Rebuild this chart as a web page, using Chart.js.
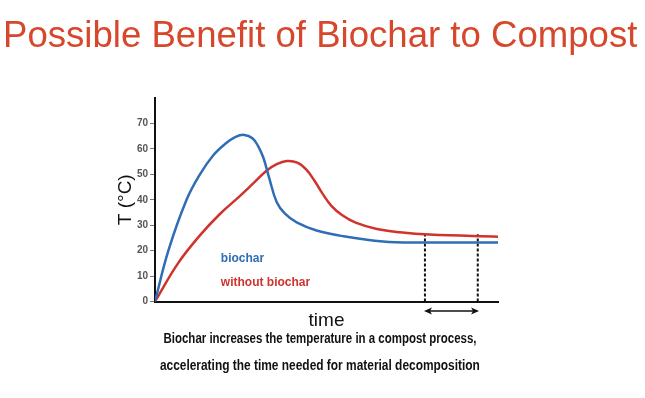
<!DOCTYPE html>
<html>
<head>
<meta charset="utf-8">
<script src="https://cdn.jsdelivr.net/npm/chart.js@4.4.1/dist/chart.umd.min.js"></script>
<style>
  body { margin: 0; background: #fff; }
  #page {
    position: relative;
    width: 645px;
    height: 398px;
    overflow: hidden;
    font-family: 'Liberation Sans', Arial, sans-serif;
  }
  #chartBox { position: absolute; left: 0; top: 0; }
  #title {
    position: absolute;
    left: 3px;
    top: 14px;
    font-size: 36.6px;
    color: #D6472C;
    white-space: nowrap;
  }
  .cap {
    position: absolute;
    left: 0;
    width: 640px;
    text-align: center;
    line-height: 16px;
  }
  .cap span {
    display: inline-block;
    font-weight: bold;
    font-size: 14px;
    color: #111;
    white-space: nowrap;
    transform-origin: center;
  }
</style>
</head>
<body>
<div id="page">
  <div id="chartBox"><canvas id="compostChart" width="645" height="398"></canvas></div>
  <div id="title">Possible Benefit of Biochar to Compost</div>
  <div class="cap" style="top:330px"><span data-w="313">Biochar increases the temperature in a compost process,</span></div>
  <div class="cap" style="top:357px"><span data-w="320">accelerating the time needed for material decomposition</span></div>
</div>
<script>
// valeurs (temps en unités arbitraires 0-100)
const timeBiochar = [0, 3.9, 9.2, 13.1, 17, 20.5, 23.5, 26, 28.4, 30.1, 31.6, 33.2, 35.5, 37.9, 41.3, 47.1, 53.9, 66.5, 77.3, 100];
const tempBiochar = [0, 20, 40, 50, 57.5, 62, 64.7, 65.5, 64.2, 61, 56.5, 49, 39, 34.5, 31.1, 27.9, 25.9, 23.6, 23.2, 23.2];

const timeWithout = [0, 6.7, 13.1, 19, 24.8, 28.7, 32.6, 35.5, 38.4, 41.5, 44, 46.5, 48.8, 51.5, 54.5, 58.5, 64.7, 71.4, 80, 100];
const tempWithout = [0, 15, 26, 34.5, 41.5, 46.5, 51.5, 54, 55.2, 54.6, 52, 47.5, 42.5, 37.5, 34, 31, 28.5, 27.2, 26.3, 25.5];

const yTicks = [0, 10, 20, 30, 40, 50, 60, 70];
const seriesNames = ['biochar', 'without biochar'];
const seriesColors = ['#2F6DB5', '#D0332E'];

// fenêtre de gain de temps (lignes pointillées + flèche)
const windowTimes = [78.7, 94.1];
const windowTemp = 26.4;
const arrowTimes = [79.3, 93.6];
const arrowLevel = -3.7;

function toPoints(xs, ys) {
  return xs.map((x, i) => ({ x: x, y: ys[i] }));
}

// étiquettes des séries + pointes de la flèche
const annotations = {
  id: 'annotations',
  afterDatasetsDraw(chart) {
    const { ctx, scales } = chart;
    const spots = [[19.2, 16.8], [19.2, 7.4]];
    ctx.save();
    ctx.font = 'bold 12px "Liberation Sans", Arial, sans-serif';
    ctx.textBaseline = 'middle';
    seriesNames.forEach((name, i) => {
      ctx.fillStyle = seriesColors[i];
      ctx.fillText(name, scales.x.getPixelForValue(spots[i][0]), scales.y.getPixelForValue(spots[i][1]));
    });

    const y = scales.y.getPixelForValue(arrowLevel);
    const x0 = scales.x.getPixelForValue(arrowTimes[0]);
    const x1 = scales.x.getPixelForValue(arrowTimes[1]);
    ctx.fillStyle = '#111';
    [[x0, -1], [x1, 1]].forEach(([x, dir]) => {
      ctx.beginPath();
      ctx.moveTo(x + dir * 3, y);
      ctx.lineTo(x - dir * 5, y - 3.5);
      ctx.lineTo(x - dir * 3, y);
      ctx.lineTo(x - dir * 5, y + 3.5);
      ctx.closePath();
      ctx.fill();
    });
    ctx.restore();
  }
};

const dashed = (t) => ({
  data: [{ x: t, y: 0 }, { x: t, y: windowTemp }],
  borderColor: '#111',
  borderWidth: 2,
  borderDash: [3, 2],
  pointRadius: 0
});

new Chart(document.getElementById('compostChart'), {
  type: 'line',
  data: {
    datasets: [
      {
        label: seriesNames[0],
        data: toPoints(timeBiochar, tempBiochar),
        borderColor: seriesColors[0],
        borderWidth: 2.5,
        pointRadius: 0,
        tension: 0.4
      },
      {
        label: seriesNames[1],
        data: toPoints(timeWithout, tempWithout),
        borderColor: seriesColors[1],
        borderWidth: 2.5,
        pointRadius: 0,
        tension: 0.4
      },
      dashed(windowTimes[0]),
      dashed(windowTimes[1]),
      {
        data: arrowTimes.map(t => ({ x: t, y: arrowLevel })),
        borderColor: '#111',
        borderWidth: 1.5,
        pointRadius: 0,
        clip: false
      }
    ]
  },
  options: {
    responsive: false,
    animation: false,
    layout: { padding: { left: 105, right: 147, top: 98, bottom: 61.5 } },
    plugins: {
      legend: { display: false },
      tooltip: { enabled: false }
    },
    scales: {
      x: {
        type: 'linear',
        min: 0,
        max: 100,
        ticks: { display: false },
        grid: { display: false },
        border: { color: '#111', width: 2 },
        title: {
          display: true,
          text: 'time',
          color: '#111',
          font: { size: 19, family: '"Liberation Sans", Arial, sans-serif' },
          padding: { top: 0, bottom: 4 }
        },
        afterFit(scale) { scale.height = 35; }
      },
      y: {
        min: 0,
        max: 80,
        afterBuildTicks(scale) { scale.ticks = yTicks.map(v => ({ value: v })); },
        ticks: {
          color: '#555',
          padding: 2,
          font: { size: 10, weight: 'bold', family: '"Liberation Sans", Arial, sans-serif' }
        },
        grid: { drawOnChartArea: false, tickLength: 5, color: '#777' },
        border: { color: '#111', width: 2 },
        title: {
          display: true,
          text: 'T (°C)',
          color: '#111',
          font: { size: 19, family: '"Liberation Sans", Arial, sans-serif' },
          padding: { top: 9, bottom: 0 }
        },
        afterFit(scale) { scale.width = 50; }
      }
    }
  },
  plugins: [annotations]
});

// ajuste la largeur des lignes de légende sous le graphique
document.querySelectorAll('.cap span').forEach(el => {
  const w = el.getBoundingClientRect().width;
  el.style.transform = 'scaleX(' + (Number(el.dataset.w) / w) + ')';
});
</script>
</body>
</html>
